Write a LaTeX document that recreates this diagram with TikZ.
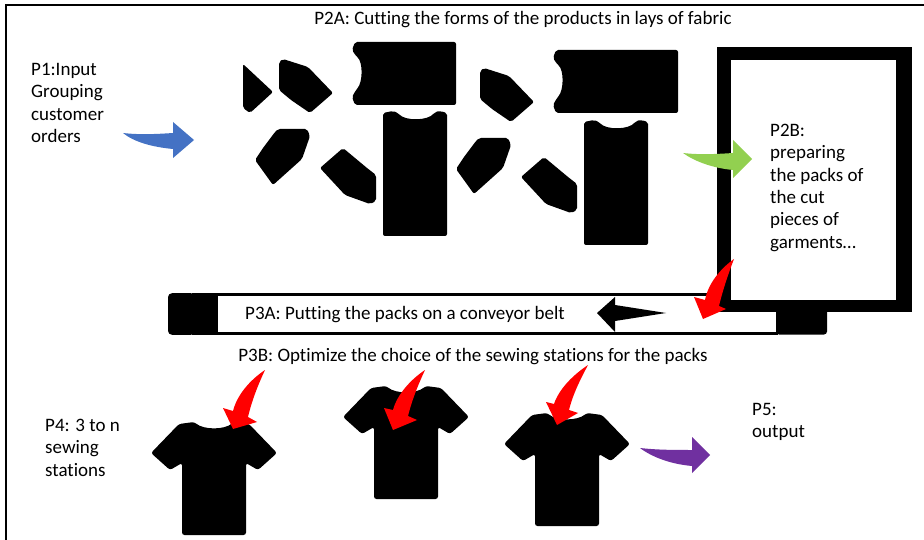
\documentclass[tikz,border=0pt]{standalone}
\usepackage{fontspec}
\setmainfont{Carlito}[Ligatures=NoCommon]
\definecolor{arrowblue}{HTML}{4472C4}
\definecolor{arrowgreen}{HTML}{92D050}
\definecolor{arrowred}{HTML}{FF0000}
\definecolor{arrowpurple}{HTML}{7030A0}
\begin{document}
\begin{tikzpicture}[x=1pt,y=-1pt,
  lbl/.style={font=\fontsize{19}{22.3}\selectfont, inner sep=0pt, align=left, anchor=north west, text=black},
  piece/.style={fill=black, rounded corners=2pt},
  tshirt/.pic={
    \fill[black, rounded corners=2.5pt] (-20,0) .. controls (-10,8) and (10,8) .. (20,0)
      -- (35,2) -- (63,31) -- (44,48) -- (32,41) -- (32,113) -- (-32,113)
      -- (-32,41) -- (-44,48) -- (-63,31) -- (-35,2) -- cycle;
  }]
\useasboundingbox (0,0) rectangle (924,540);
\fill[white] (0,0) rectangle (924,540);

% outer frame (left and top edges)
\draw[line width=2.3pt] (6,540) -- (6,5.3) -- (924,5.3);

% ---------- cut pieces, first lay ----------
\fill[piece] (243,64) -- (273,92) -- (250,113) -- (243,108) -- cycle;
\begin{scope}
  \fill[piece] (279,62) -- (283,59) -- (308,67) -- (333,93) -- (310,113) -- (291,100) -- (279,90) -- cycle;
  \fill[piece] (255,160) -- (263,148) -- (275,132) -- (278,129) -- (307,129) -- (310,136) -- (302,159) -- (273,185) -- cycle;
  \fill[piece] (320,168) -- (343,148) -- (367,168) -- (376,175) -- (376,201) -- (370,204) -- (345,195) -- cycle;
  \fill[piece] (383,113) -- (393,111) -- (398,113) .. controls (405,121) and (428,121) .. (435,112)
     -- (440,111) -- (447,113) -- (447,236) -- (383,236) -- cycle;
\end{scope}
\fill[piece] (355,42) -- (456,42) -- (456,105) -- (355,105) -- (352,97) -- (356,90)
   .. controls (363,82) and (363,62) .. (356,56) -- (352,50) -- cycle;

% ---------- cut pieces, second lay ----------
\begin{scope}[shift={(201,9)}]
  \fill[piece] (279,62) -- (283,59) -- (308,67) -- (333,93) -- (310,113) -- (291,100) -- (279,90) -- cycle;
  \fill[piece] (255,160) -- (263,148) -- (275,132) -- (278,129) -- (307,129) -- (310,136) -- (302,159) -- (273,185) -- cycle;
  \fill[piece] (320,168) -- (343,148) -- (367,168) -- (376,175) -- (376,201) -- (370,204) -- (345,195) -- cycle;
  \fill[piece] (383,113) -- (393,111) -- (398,113) .. controls (405,121) and (428,121) .. (435,112)
     -- (440,111) -- (447,113) -- (447,236) -- (383,236) -- cycle;
\end{scope}
\fill[piece] (556,50) -- (678,50) -- (678,113) -- (556,113) -- (553,105) -- (557,98)
   .. controls (564,90) and (564,70) .. (557,64) -- (553,58) -- cycle;

% ---------- conveyor belt ----------
\draw[line width=2.5pt, fill=white] (217,294.5) -- (777,294.5) -- (777,333.5) -- (217,333.5) -- cycle;
\fill[rounded corners=4pt] (195,293.2) -- (168,293.2) -- (168,334.8) -- (195,334.8) -- cycle;
\fill (192,293.2) rectangle (218,334.8);

% ---------- packing station ----------
\fill (717,47) rectangle (912,312);
\fill[white] (731,60) rectangle (896,300);
\fill[rounded corners=3pt] (776,308) -- (827,308) -- (827,334.5) -- (776,334.5) -- cycle;

% ---------- sewing stations ----------
\pic at (214,422) {tshirt};
\pic at (406,386) {tshirt};
\pic at (567,413) {tshirt};

% ---------- block arrows ----------
\fill[arrowblue] (123,133) .. controls (140,135) and (158,134) .. (173,133) -- (173,122) -- (194,140)
   -- (173,158) -- (173,149) .. controls (152,147) and (134,142) .. cycle;
\fill[arrowgreen] (683,153) .. controls (700,155) and (718,154) .. (733,153) -- (733,140) -- (752,159)
   -- (733,178) -- (733,170) .. controls (712,168) and (694,161) .. cycle;
\fill[arrowpurple] (640,448) .. controls (657,450) and (676,450) .. (692,450) -- (692,437) -- (710,455)
   -- (692,473) -- (692,466) .. controls (670,464) and (652,457) .. cycle;
\fill[arrowred] (734,259) .. controls (720,269) and (708,284) .. (705,300) -- (694,297) -- (703,319)
   -- (726,309) -- (719,306) .. controls (723,289) and (729,272) .. cycle;
\fill[arrowred] (265,370) .. controls (250,380) and (237,395) .. (233,411) -- (223,408) -- (233,429)
   -- (257,422) -- (248,417) .. controls (252,400) and (258,385) .. cycle;
\fill[arrowred] (425,370) .. controls (410,380) and (397,395) .. (393,410) -- (384,408) -- (393,430)
   -- (417,420) -- (408,416) .. controls (412,400) and (418,385) .. cycle;
\fill[arrowred] (588,365) .. controls (573,375) and (559,389) .. (554,404) -- (546,402) -- (557,425)
   -- (578,413) -- (569,410) .. controls (573,394) and (580,380) .. cycle;
\fill (597,313) -- (615,297) -- (615,305) -- (666,313) -- (615,321) -- (615,332) -- cycle;

% ---------- labels ----------
\node[lbl, anchor=base] (title) at (523,25) {P2A: Cutting the forms of the products in lays of fabric};
\node[lbl] (p1) at (31,63) {P1:Input\\Grouping\\customer\\orders};
\node[lbl] (p2b) at (770,124) {P2B:\\preparing\\the packs of\\the cut\\pieces of\\garments…};
\node[lbl, anchor=base west] (p3a) at (245,319) {P3A: Putting the packs on a conveyor belt};
\node[lbl, anchor=base] (p3b) at (473,361) {P3B: Optimize the choice of the sewing stations for the packs};
\node[lbl] (p4) at (45,419) {P4: 3 to n\\sewing\\stations};
\node[lbl] (p5) at (752,403) {P5:\\output};
\end{tikzpicture}
\end{document}
